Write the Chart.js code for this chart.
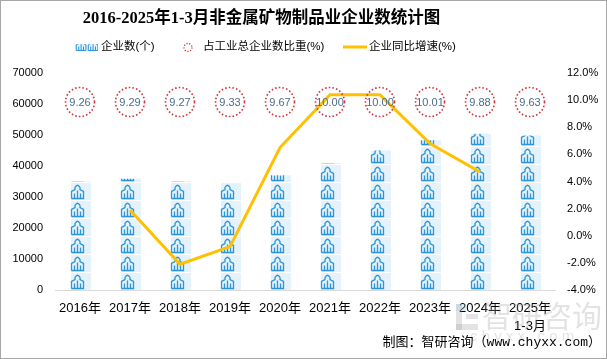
<!DOCTYPE html>
<html><head><meta charset="utf-8">
<script src="https://cdn.jsdelivr.net/npm/chart.js@4.4.1/dist/chart.umd.min.js"></script>
<style>html,body{margin:0;padding:0;background:#fff}canvas{display:block}</style>
</head><body>
<canvas id="c" width="607" height="359"></canvas>
<script>
const titleText = '2016-2025年1-3月非金属矿物制品业企业数统计图';
const categories = ['2016年','2017年','2018年','2019年','2020年','2021年','2022年','2023年','2024年',['2025年','1-3月']];
const enterpriseCount = [35100,35900,35100,34800,37000,41000,45000,48300,50400,49800];
const shareOfIndustry = [9.26,9.29,9.27,9.33,9.67,10.00,10.00,10.01,9.88,9.63];
const yoyGrowth = [null,1.9,-2.1,-0.8,6.5,10.4,10.4,6.8,4.7,null];
const seriesNames = ['企业数(个)','占工业总企业数比重(%)','企业同比增速(%)'];
const leftTicks = {min:0,max:70000,step:10000};
const rightTicks = {min:-4,max:12,step:2};
const sourceText = '制图：智研咨询（www.chyxx.com）';
const watermarkText = '智研咨询';
const watermarkSub = 'c h y x x . c o m';

const FONT = "'Liberation Sans','Noto Sans CJK SC',sans-serif";
const BLUE = '#2a95d9', LIGHT = '#e3f2fb', YELLOW = '#FFC000', RED = '#d7333b';

function drawIcon(ctx, x, bottom, s) {
  s = s || 1;
  const t = bottom - 15*s, cx = x + 7*s, mid = bottom - 8*s;
  ctx.beginPath();
  ctx.moveTo(x + 1*s, bottom);
  ctx.lineTo(x + 1*s, mid + 1*s);
  ctx.lineTo(cx - 2.5*s, mid - 1*s);
  ctx.lineTo(cx - 2.5*s, t + 4*s);
  ctx.quadraticCurveTo(cx, t - 0.5*s, cx + 2.5*s, t + 4*s);
  ctx.lineTo(cx + 2.5*s, mid - 1*s);
  ctx.lineTo(x + 13*s, mid + 1*s);
  ctx.lineTo(x + 13*s, bottom);
  ctx.lineTo(x + 1*s, bottom);
  ctx.moveTo(x + 4*s, bottom); ctx.lineTo(x + 4*s, bottom - 5*s);
  ctx.moveTo(x + 10*s, bottom); ctx.lineTo(x + 10*s, bottom - 5*s);
  ctx.moveTo(cx, bottom); ctx.lineTo(cx, mid);
  ctx.stroke();
}

const customDraw = {
  id: 'customDraw',
  beforeDraw(chart) {
    const ctx = chart.ctx;
    ctx.save();
    ctx.fillStyle = '#fff';
    ctx.fillRect(0, 0, chart.width, chart.height);
    ctx.restore();
  },
  afterDatasetDraw(chart, args) {
    if (args.meta.type !== 'bar') return;
    const ctx = chart.ctx;
    const CELL = 18;
    args.meta.data.forEach(bar => {
      const w = bar.width, left = Math.round(bar.x - w / 2), top = bar.y, base = bar.base;
      ctx.save();
      ctx.beginPath();
      ctx.rect(left, top, w + 1, base - top);
      ctx.clip();
      ctx.strokeStyle = BLUE;
      ctx.lineWidth = 1.3;
      for (let b = base; b > top - CELL; b -= CELL) {
        ctx.fillStyle = LIGHT;
        ctx.fillRect(left + 1, b - CELL + 1, w, CELL - 1);
        drawIcon(ctx, left + 0.5, Math.round(b) - 1.5, 1);
      }
      ctx.restore();
    });
  },
  afterDatasetsDraw(chart) {
    const ctx = chart.ctx, xs = chart.scales.x, area = chart.chartArea;
    const cy = area.top + 29;
    ctx.save();
    shareOfIndustry.forEach((v, i) => {
      const x = xs.getPixelForValue(i);
      ctx.beginPath();
      ctx.setLineDash([1.6, 2.1]);
      ctx.lineWidth = 1.6;
      ctx.strokeStyle = RED;
      ctx.arc(x, cy, 14.5, 0, Math.PI * 2);
      ctx.stroke();
      ctx.setLineDash([]);
      ctx.fillStyle = '#4d6b8b';
      ctx.font = '11px ' + FONT;
      ctx.textAlign = 'center';
      ctx.textBaseline = 'middle';
      ctx.fillText(v.toFixed(2), x, cy + 0.5);
    });
    ctx.restore();
  },
  afterDraw(chart) {
    const ctx = chart.ctx;
    ctx.save();
    // watermark (behind the text)
    ctx.globalAlpha = 0.28;
    ctx.fillStyle = '#9a9a9a';
    ctx.fillRect(456, 304, 6, 26);
    ctx.fillRect(456, 324, 22, 6);
    ctx.fillRect(466, 314, 12, 5);
    ctx.fillStyle = '#8fc3e6';
    ctx.fillRect(456, 304, 10, 7);
    ctx.fillStyle = '#9a9a9a';
    ctx.font = "30px 'Noto Sans CJK SC',sans-serif";
    ctx.textBaseline = 'middle';
    ctx.textAlign = 'left';
    ctx.fillText(watermarkText, 482, 316);
    ctx.font = '15px ' + FONT;
    ctx.fillText(watermarkSub, 470, 337);
    ctx.globalAlpha = 1;
    // title
    ctx.fillStyle = '#000';
    ctx.font = "bold 16.5px 'Liberation Serif','Noto Sans CJK SC',serif";
    ctx.textAlign = 'center';
    ctx.textBaseline = 'middle';
    ctx.fillText(titleText, 261.5, 19);
    // legend
    const ly = 47;
    ctx.save();
    ctx.beginPath(); ctx.rect(75, ly - 3, 23, 7); ctx.clip();
    ctx.fillStyle = LIGHT; ctx.fillRect(75, ly - 3, 23, 7);
    ctx.strokeStyle = BLUE; ctx.lineWidth = 1;
    drawIcon(ctx, 75.5, ly + 3.5, 0.8);
    drawIcon(ctx, 87.5, ly + 3.5, 0.8);
    ctx.restore();
    ctx.font = '11.5px ' + FONT;
    ctx.textAlign = 'left';
    ctx.fillStyle = '#000';
    ctx.fillText(seriesNames[0], 101, ly);
    ctx.beginPath();
    ctx.setLineDash([1.2, 1.6]);
    ctx.lineWidth = 1.3;
    ctx.strokeStyle = RED;
    ctx.arc(188, ly + 0.5, 4, 0, Math.PI * 2);
    ctx.stroke();
    ctx.setLineDash([]);
    ctx.fillText(seriesNames[1], 203, ly);
    ctx.beginPath();
    ctx.strokeStyle = YELLOW; ctx.lineWidth = 3;
    ctx.moveTo(343, ly); ctx.lineTo(367, ly); ctx.stroke();
    ctx.fillText(seriesNames[2], 369, ly);
    // source
    ctx.fillStyle = '#000';
    ctx.font = "13px 'Liberation Mono','Noto Sans CJK SC',monospace";
    ctx.textAlign = 'right';
    ctx.fillText(sourceText, 601, 343);
    // border
    ctx.strokeStyle = '#a6a6a6';
    ctx.lineWidth = 1;
    ctx.strokeRect(0.5, 0.5, chart.width - 1, chart.height - 1);
    ctx.restore();
  }
};

new Chart(document.getElementById('c'), {
  data: {
    labels: categories,
    datasets: [
      { type: 'bar', label: seriesNames[0], data: enterpriseCount, yAxisID: 'y',
        backgroundColor: 'rgba(0,0,0,0)', barPercentage: 0.4, categoryPercentage: 1, order: 2 },
      { type: 'line', label: seriesNames[1], data: shareOfIndustry, yAxisID: 'yr',
        showLine: false, pointRadius: 0, order: 1 },
      { type: 'line', label: seriesNames[2], data: yoyGrowth, yAxisID: 'y1',
        borderColor: YELLOW, borderWidth: 3, pointRadius: 0, tension: 0, spanGaps: false, order: 0 }
    ]
  },
  options: {
    responsive: false,
    animation: false,
    layout: { padding: { top: 73, left: 0, right: 0, bottom: 0 } },
    plugins: { legend: { display: false }, title: { display: false }, tooltip: { enabled: false } },
    scales: {
      x: {
        grid: { display: false, drawTicks: false },
        border: { color: '#d9d9d9' },
        ticks: { font: { size: 13, family: FONT, lineHeight: 1.4 }, color: '#000', padding: 9, maxRotation: 0, autoSkip: false },
        afterFit(s) { s.height = 69; }
      },
      y: {
        position: 'left', min: leftTicks.min, max: leftTicks.max,
        ticks: { stepSize: leftTicks.step, font: { size: 11, family: FONT }, color: '#000', padding: 12,
          callback: v => String(v) },
        grid: { display: false, drawTicks: false }, border: { display: false },
        afterFit(s) { s.width = 55; }
      },
      y1: {
        position: 'right', min: rightTicks.min, max: rightTicks.max,
        ticks: { stepSize: rightTicks.step, font: { size: 11, family: FONT }, color: '#000', padding: 12,
          callback: v => v.toFixed(1) + '%' },
        grid: { display: false, drawTicks: false }, border: { display: false },
        afterFit(s) { s.width = 52; }
      },
      yr: { display: false, min: 0, max: 20 }
    }
  },
  plugins: [customDraw]
});
</script>
</body></html>
